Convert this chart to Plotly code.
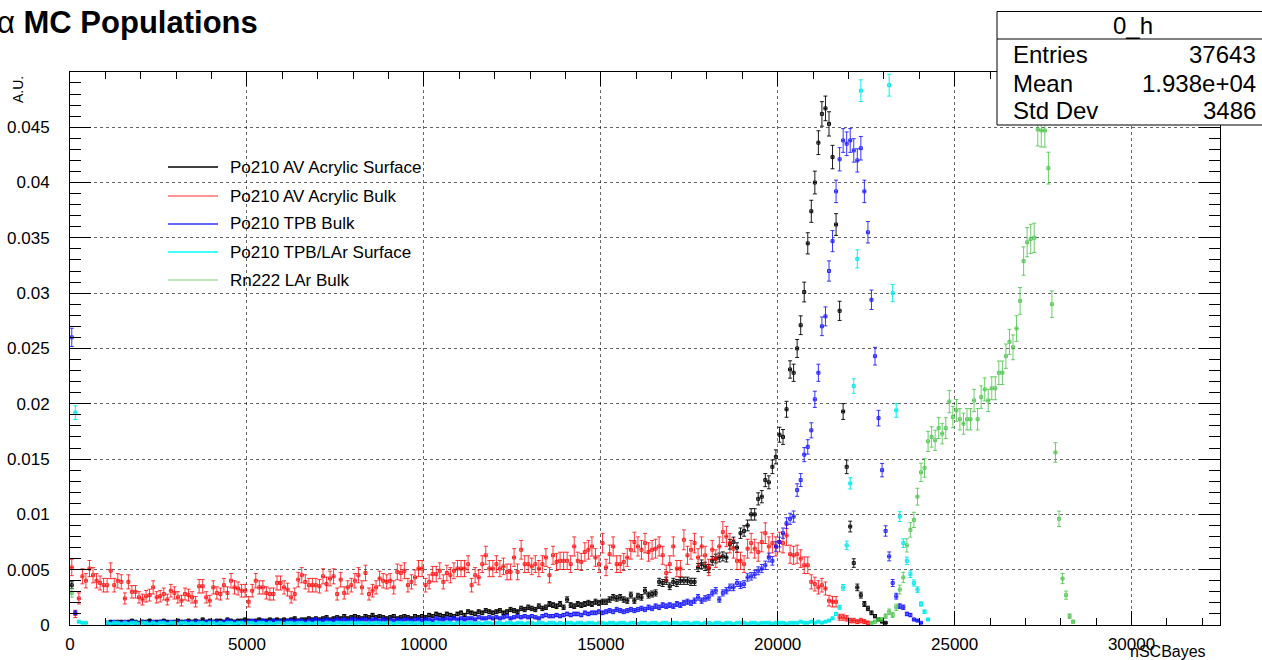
import numpy as np
import plotly.graph_objects as go

# ---------------- data (normalised histograms, 100-unit bins, 0..32500) -------------
BIN_W = 100
X_MAX = 32500
Y_MAX = 0.04999

labels = ["Po210 AV Acrylic Surface", "Po210 AV Acrylic Bulk", "Po210 TPB Bulk",
          "Po210 TPB/LAr Surface", "Rn222 LAr Bulk"]

# each series: list of (first_bin, values); None = empty / off-scale bin
black_seg0 = [0.0036]
black_seg1 = [  # bins 10..230
    0.0002, 0.0003, 0.0002, 0.0003, 0.0003, 0.0002, 0.0003, 0.0004, 0.0003, 0.0002,
    0.0003, 0.0003, 0.0004, 0.0002, 0.0003, 0.0003, 0.0004, 0.0003, 0.0002, 0.0003,
    0.0004, 0.0003, 0.0003, 0.0004, 0.0003, 0.0004, 0.0003, 0.0005, 0.0003, 0.0004,
    0.0003, 0.0004, 0.0004, 0.0003, 0.0005, 0.0004, 0.0003, 0.0004, 0.0004, 0.0005,
    0.0004, 0.0003, 0.0004, 0.0005, 0.0004, 0.0004, 0.0005, 0.0004, 0.0005, 0.0004,
    0.0005, 0.0004, 0.0005, 0.0006, 0.0004, 0.0005, 0.0005, 0.0006, 0.0005, 0.0006,
    0.0005, 0.0006, 0.0007, 0.0005, 0.0006, 0.0007, 0.0006, 0.0008, 0.0006, 0.0007,
    0.0008, 0.0007, 0.0006, 0.0008, 0.0007, 0.0009, 0.0007, 0.0008, 0.0007, 0.0006,
    0.0007, 0.0008, 0.0006, 0.0007, 0.0008, 0.0007, 0.0006, 0.0008, 0.0007, 0.0008,
    0.0007, 0.0009, 0.0008, 0.0010, 0.0009, 0.0008, 0.0010, 0.0009, 0.0008, 0.0010,
    0.0011, 0.0009, 0.0012, 0.0011, 0.0010, 0.0012, 0.0011, 0.0013, 0.0012, 0.0011,
    0.0012, 0.0013, 0.0011, 0.0012, 0.0014, 0.0013, 0.0012, 0.0015, 0.0014, 0.0016,
    0.0015, 0.0014, 0.0017, 0.0015, 0.0016, 0.0019, 0.0018, 0.0017, 0.0019, 0.0016,
    0.0023, 0.0018, 0.0017, 0.0019, 0.0018, 0.0019, 0.0020, 0.0019, 0.0021, 0.0020,
    0.0021, 0.0021, 0.0023, 0.0025, 0.0024, 0.0025, 0.0023, 0.0022, 0.0027, 0.0022,
    0.0026, 0.0025, 0.0031, 0.0027, 0.0028, 0.0029, 0.0039, 0.0038, 0.0040, 0.0035,
    0.0039, 0.0038, 0.0040, 0.0040, 0.0040, 0.0039, 0.0039, 0.0052, 0.0055, 0.0053,
    0.0051, 0.0058, 0.0060, 0.0061, 0.0062, 0.0061, 0.0073, 0.0075, 0.0070, 0.0083,
    0.0085, 0.0090, 0.0100, 0.0100, 0.0114, 0.0116, 0.0131, 0.0129, 0.0143, 0.0152,
    0.0172, 0.0170, 0.0195, 0.0231, 0.0228, 0.0250, 0.0271, 0.0301, 0.0345, 0.0374,
    0.0400, 0.0436, 0.0462, 0.0467, 0.0453, 0.0423, 0.0362, 0.0284, 0.0193, 0.0143,
    0.0089, 0.0056, 0.0034, 0.0027, 0.0019, 0.0015, 0.0011, 0.0008, 0.0005, 0.0003,
    0.0002,
]

red_seg0 = [  # bins 0..225
    0.0052, 0.0010, 0.0024, 0.0044, 0.0040, 0.0051, 0.0045, 0.0040, 0.0038, 0.0036,
    0.0036, 0.0049, 0.0036, 0.0040, 0.0039, 0.0024, 0.0039, 0.0030, 0.0030, 0.0025,
    0.0023, 0.0026, 0.0027, 0.0034, 0.0025, 0.0026, 0.0028, 0.0023, 0.0031, 0.0029,
    0.0025, 0.0022, 0.0028, 0.0027, 0.0025, 0.0021, 0.0035, 0.0035, 0.0025, 0.0022,
    0.0034, 0.0029, 0.0028, 0.0036, 0.0029, 0.0040, 0.0034, 0.0033, 0.0031, 0.0031,
    0.0021, 0.0031, 0.0040, 0.0034, 0.0034, 0.0029, 0.0028, 0.0028, 0.0038, 0.0038,
    0.0034, 0.0032, 0.0025, 0.0028, 0.0041, 0.0045, 0.0039, 0.0036, 0.0036, 0.0036,
    0.0035, 0.0044, 0.0037, 0.0042, 0.0044, 0.0028, 0.0041, 0.0029, 0.0034, 0.0036,
    0.0040, 0.0045, 0.0034, 0.0047, 0.0028, 0.0031, 0.0034, 0.0042, 0.0040, 0.0039,
    0.0040, 0.0034, 0.0048, 0.0047, 0.0049, 0.0036, 0.0039, 0.0043, 0.0051, 0.0051,
    0.0036, 0.0039, 0.0046, 0.0046, 0.0049, 0.0039, 0.0047, 0.0045, 0.0049, 0.0051,
    0.0051, 0.0051, 0.0055, 0.0036, 0.0045, 0.0043, 0.0055, 0.0063, 0.0051, 0.0051,
    0.0055, 0.0051, 0.0053, 0.0048, 0.0048, 0.0061, 0.0048, 0.0068, 0.0055, 0.0055,
    0.0053, 0.0055, 0.0051, 0.0055, 0.0061, 0.0045, 0.0063, 0.0057, 0.0058, 0.0058,
    0.0058, 0.0055, 0.0071, 0.0058, 0.0057, 0.0066, 0.0068, 0.0071, 0.0061, 0.0055,
    0.0074, 0.0052, 0.0064, 0.0071, 0.0055, 0.0055, 0.0057, 0.0061, 0.0068, 0.0075,
    0.0071, 0.0068, 0.0074, 0.0066, 0.0068, 0.0069, 0.0071, 0.0063, 0.0047, 0.0055,
    0.0071, 0.0051, 0.0051, 0.0077, 0.0063, 0.0068, 0.0074, 0.0061, 0.0071, 0.0063,
    0.0052, 0.0068, 0.0060, 0.0071, 0.0084, 0.0080, 0.0074, 0.0069, 0.0058, 0.0058,
    0.0055, 0.0069, 0.0074, 0.0069, 0.0066, 0.0075, 0.0083, 0.0071, 0.0074, 0.0071,
    0.0075, 0.0074, 0.0081, 0.0064, 0.0063, 0.0064, 0.0060, 0.0054, 0.0054, 0.0039,
    0.0037, 0.0034, 0.0036, 0.0033, 0.0022, 0.0021, 0.0021, 0.0007, 0.0007, 0.0006,
    0.0004, 0.0004, 0.0003, 0.0004, 0.0003, 0.0002,
]

blue_seg0 = [0.0260, 0.0011]
blue_seg1 = [  # bins 10..240
    0.0002, 0.0002, 0.0003, 0.0002, 0.0002, 0.0003, 0.0002, 0.0003, 0.0002, 0.0002,
    0.0003, 0.0002, 0.0002, 0.0003, 0.0002, 0.0003, 0.0003, 0.0002, 0.0003, 0.0002,
    0.0003, 0.0002, 0.0003, 0.0003, 0.0002, 0.0003, 0.0003, 0.0002, 0.0003, 0.0003,
    0.0003, 0.0003, 0.0002, 0.0003, 0.0004, 0.0003, 0.0003, 0.0002, 0.0003, 0.0003,
    0.0003, 0.0004, 0.0003, 0.0003, 0.0004, 0.0003, 0.0003, 0.0004, 0.0003, 0.0004,
    0.0003, 0.0004, 0.0004, 0.0003, 0.0004, 0.0004, 0.0003, 0.0004, 0.0004, 0.0005,
    0.0004, 0.0004, 0.0005, 0.0004, 0.0004, 0.0005, 0.0004, 0.0005, 0.0004, 0.0005,
    0.0005, 0.0004, 0.0005, 0.0005, 0.0004, 0.0005, 0.0005, 0.0004, 0.0005, 0.0004,
    0.0005, 0.0004, 0.0005, 0.0004, 0.0005, 0.0005, 0.0004, 0.0005, 0.0005, 0.0004,
    0.0005, 0.0005, 0.0004, 0.0006, 0.0005, 0.0005, 0.0006, 0.0005, 0.0006, 0.0005,
    0.0006, 0.0005, 0.0006, 0.0006, 0.0005, 0.0007, 0.0006, 0.0006, 0.0007, 0.0006,
    0.0007, 0.0006, 0.0007, 0.0008, 0.0006, 0.0007, 0.0008, 0.0007, 0.0008, 0.0007,
    0.0008, 0.0007, 0.0006, 0.0008, 0.0009, 0.0008, 0.0008, 0.0009, 0.0008, 0.0009,
    0.0010, 0.0009, 0.0010, 0.0010, 0.0009, 0.0011, 0.0010, 0.0011, 0.0011, 0.0012,
    0.0011, 0.0012, 0.0013, 0.0012, 0.0014, 0.0013, 0.0012, 0.0013, 0.0014, 0.0013,
    0.0014, 0.0015, 0.0014, 0.0016, 0.0015, 0.0017, 0.0016, 0.0018, 0.0017, 0.0018,
    0.0017, 0.0019, 0.0018, 0.0020, 0.0021, 0.0020, 0.0022, 0.0025, 0.0022, 0.0024,
    0.0025, 0.0029, 0.0031, 0.0023, 0.0029, 0.0031, 0.0034, 0.0034, 0.0038, 0.0036,
    0.0037, 0.0043, 0.0044, 0.0046, 0.0049, 0.0051, 0.0054, 0.0061, 0.0058, 0.0071,
    0.0075, 0.0083, 0.0092, 0.0096, 0.0098, 0.0122, 0.0131, 0.0154, 0.0161, 0.0176,
    0.0204, 0.0228, 0.0270, 0.0279, 0.0320, 0.0347, 0.0392, 0.0421, 0.0438, 0.0435,
    0.0438, 0.0429, 0.0420, 0.0431, 0.0392, 0.0355, 0.0294, 0.0243, 0.0187, 0.0140,
    0.0085, 0.0062, 0.0038, 0.0026, 0.0017, 0.0016, 0.0010, 0.0009, 0.0005, 0.0004,
    0.0002,
]

cyan_seg0 = [None, 0.0192, 0.0003, 0.0002, 0.0002]
cyan_seg1 = [  # bins 10..242 (bins 224..230 are above the frame)
    0.0002, 0.0001, 0.0002, 0.0002, 0.0001, 0.0002, 0.0001, 0.0002, 0.0002, 0.0001,
    0.0002, 0.0002, 0.0001, 0.0002, 0.0001, 0.0002, 0.0002, 0.0001, 0.0002, 0.0002,
    0.0001, 0.0002, 0.0002, 0.0001, 0.0002, 0.0001, 0.0002, 0.0002, 0.0001, 0.0002,
    0.0002, 0.0001, 0.0002, 0.0001, 0.0002, 0.0002, 0.0001, 0.0002, 0.0002, 0.0001,
    0.0002, 0.0002, 0.0001, 0.0002, 0.0002, 0.0001, 0.0002, 0.0001, 0.0002, 0.0002,
    0.0001, 0.0002, 0.0002, 0.0001, 0.0002, 0.0002, 0.0001, 0.0002, 0.0001, 0.0002,
    0.0002, 0.0001, 0.0002, 0.0002, 0.0001, 0.0002, 0.0002, 0.0001, 0.0002, 0.0002,
    0.0001, 0.0002, 0.0002, 0.0001, 0.0002, 0.0001, 0.0002, 0.0002, 0.0001, 0.0002,
    0.0002, 0.0001, 0.0002, 0.0002, 0.0001, 0.0002, 0.0002, 0.0001, 0.0002, 0.0001,
    0.0002, 0.0002, 0.0001, 0.0002, 0.0002, 0.0001, 0.0002, 0.0002, 0.0001, 0.0002,
    0.0002, 0.0001, 0.0002, 0.0002, 0.0001, 0.0002, 0.0001, 0.0002, 0.0002, 0.0001,
    0.0002, 0.0002, 0.0001, 0.0002, 0.0002, 0.0001, 0.0002, 0.0002, 0.0001, 0.0002,
    0.0002, 0.0001, 0.0002, 0.0002, 0.0001, 0.0002, 0.0002, 0.0001, 0.0002, 0.0001,
    0.0002, 0.0002, 0.0001, 0.0002, 0.0002, 0.0001, 0.0002, 0.0002, 0.0001, 0.0002,
    0.0002, 0.0001, 0.0002, 0.0002, 0.0001, 0.0002, 0.0002, 0.0001, 0.0002, 0.0002,
    0.0001, 0.0002, 0.0002, 0.0001, 0.0002, 0.0002, 0.0001, 0.0002, 0.0002, 0.0001,
    0.0002, 0.0002, 0.0001, 0.0002, 0.0002, 0.0001, 0.0002, 0.0002, 0.0001, 0.0002,
    0.0002, 0.0001, 0.0002, 0.0002, 0.0001, 0.0002, 0.0002, 0.0001, 0.0002, 0.0002,
    0.0002, 0.0001, 0.0002, 0.0002, 0.0001, 0.0002, 0.0002, 0.0002, 0.0001, 0.0002,
    0.0002, 0.0002, 0.0001, 0.0002, 0.0002, 0.0002, 0.0003, 0.0002, 0.0002, 0.0003,
    0.0002, 0.0003, 0.0002, 0.0003,
    0.0004, 0.0006, 0.0010, 0.0016, 0.0034, 0.0072, 0.0128, 0.0216, 0.0331, 0.0483,
    None, None, None, None, None, None, None,
    0.0488, 0.0300, 0.0194, 0.0098, 0.0074, 0.0058, 0.0046, 0.0038, 0.0032, 0.0019,
    0.0012, 0.0005,
]

green_seg0 = [0.0029]
green_seg1 = [  # bins 226..283
    0.0002, 0.0003, 0.0005, 0.0005, 0.0008, 0.0012, 0.0009, 0.0016, 0.0032, 0.0043,
    0.0072, 0.0086, 0.0095, 0.0116, 0.0138, 0.0142, 0.0166, 0.0170, 0.0167, 0.0178,
    0.0173, 0.0178, 0.0202, 0.0188, 0.0194, 0.0186, 0.0182, 0.0186, 0.0186, 0.0203,
    0.0186, 0.0206, 0.0213, 0.0203, 0.0214, 0.0214, 0.0228, 0.0228, 0.0243, 0.0256,
    0.0251, 0.0268, 0.0293, 0.0329, 0.0346, 0.0349, 0.0350, 0.0448, 0.0447, 0.0447,
    0.0413, 0.0290, 0.0156, 0.0096, 0.0042, 0.0027, 0.0008, 0.0003,
]

series_segments = [
    [(0, black_seg0), (10, black_seg1)],
    [(0, red_seg0)],
    [(0, blue_seg0), (10, blue_seg1)],
    [(0, cyan_seg0), (10, cyan_seg1)],
    [(0, green_seg0), (226, green_seg1)],
]
# effective number of entries per histogram (sets the Poisson error bar size)
n_eff = [37643, 9500, 38000, 50000, 20000]

colors = ["rgba(0,0,0,0.9)", "rgba(255,0,0,0.78)", "rgba(20,20,255,0.85)",
          "rgba(0,235,235,0.95)", "rgba(70,195,70,0.8)"]
legend_colors = ["#000000", "#ff7070", "#3030ff", "#00ffff", "#a0e0a0"]

stats_title = "0_h"
stats_rows = [("Entries", "37643"), ("Mean", "1.938e+04"), ("Std Dev", "3486")]

FONT = "Liberation Sans, Arial, Helvetica, sans-serif"

# ---------------- figure -------------------------------------------------------------
fig = go.Figure()
for segs, ne, col, name in zip(series_segments, n_eff, colors, labels):
    xs, ys = [], []
    for start, vals in segs:
        for i, v in enumerate(vals):
            if v is None:
                continue
            xs.append((start + i) * BIN_W + BIN_W / 2)
            ys.append(v)
    ys = np.array(ys)
    errs = np.sqrt(ys / ne)
    fig.add_trace(go.Scatter(
        x=xs, y=ys, mode="markers", name=name, showlegend=False,
        marker=dict(symbol="square-open", size=3, color=col, line=dict(width=1, color=col)),
        error_y=dict(type="data", array=errs, visible=True, color=col, thickness=1, width=2),
        error_x=dict(type="constant", value=BIN_W / 2, visible=True, color=col, thickness=1, width=0),
        hoverinfo="x+y",
    ))

L, R, T, B = 70, 1220, 72, 625
W, H = R - L, B - T


def px(x):
    return (x - L) / W


def py(y):
    return (B - y) / H


shapes = []
annotations = []

# title
annotations.append(dict(text="α <b>MC Populations</b>", x=px(-5), y=py(23), xref="paper", yref="paper",
                        xanchor="left", yanchor="middle", showarrow=False,
                        font=dict(family=FONT, size=31, color="black")))
# axis titles
annotations.append(dict(text="A.U.", x=px(18), y=py(90), xref="paper", yref="paper", textangle=-90,
                        xanchor="center", yanchor="middle", showarrow=False,
                        font=dict(family=FONT, size=14, color="black")))
annotations.append(dict(text="nSCBayes", x=px(1208), y=py(651), xref="paper", yref="paper",
                        xanchor="right", yanchor="middle", showarrow=False,
                        font=dict(family=FONT, size=16, color="black")))

# legend (no border, transparent)
leg_y = [167, 196, 224, 252, 280]
for name, lc, yy in zip(labels, legend_colors, leg_y):
    shapes.append(dict(type="line", xref="paper", yref="paper", x0=px(168), x1=px(218),
                       y0=py(yy), y1=py(yy), line=dict(color=lc, width=1.5)))
    annotations.append(dict(text=name, x=px(228), y=py(yy), xref="paper", yref="paper",
                            xanchor="left", yanchor="middle", showarrow=False,
                            font=dict(family=FONT, size=17, color="black")))

# stats box
shapes.append(dict(type="rect", xref="paper", yref="paper", x0=px(997), x1=px(1270),
                   y0=py(125), y1=py(11.5), fillcolor="white", line=dict(color="black", width=1),
                   layer="above"))
shapes.append(dict(type="line", xref="paper", yref="paper", x0=px(997), x1=px(1270),
                   y0=py(39), y1=py(39), line=dict(color="black", width=1), layer="above"))
annotations.append(dict(text=stats_title, x=px(1133), y=py(25), xref="paper", yref="paper",
                        xanchor="center", yanchor="middle", showarrow=False,
                        font=dict(family=FONT, size=24, color="black")))
for (k, v), yy in zip(stats_rows, [55, 83, 111]):
    annotations.append(dict(text=k, x=px(1011), y=py(yy), xref="paper", yref="paper",
                            xanchor="left", yanchor="middle", showarrow=False,
                            font=dict(family=FONT, size=24, color="black")))
    annotations.append(dict(text=v, x=px(1258), y=py(yy), xref="paper", yref="paper",
                            xanchor="right", yanchor="middle", showarrow=False,
                            font=dict(family=FONT, size=24, color="black")))

grid = dict(showgrid=True, gridcolor="rgba(0,0,0,0.6)", griddash="dot", gridwidth=1)
fig.update_layout(
    width=1262, height=660,
    margin=dict(l=L, r=1262 - R, t=T, b=660 - B, autoexpand=False),
    paper_bgcolor="white", plot_bgcolor="white",
    font=dict(family=FONT, color="black"),
    showlegend=False,
    shapes=shapes, annotations=annotations,
    xaxis=dict(range=[0, X_MAX], tick0=0, dtick=5000, tickformat="d",
               showline=True, linecolor="black", linewidth=1, mirror="allticks",
               ticks="inside", ticklen=14, tickwidth=1, tickcolor="black",
               minor=dict(ticks="inside", ticklen=7, dtick=1000, tickcolor="black", showgrid=False),
               ticklabelstandoff=4,
               zeroline=False, tickfont=dict(size=17, family=FONT), **grid),
    yaxis=dict(range=[0, Y_MAX], tick0=0, dtick=0.005,
               showline=True, linecolor="black", linewidth=1, mirror="allticks",
               ticks="inside", ticklen=21, tickwidth=1, tickcolor="black",
               minor=dict(ticks="inside", ticklen=11, dtick=0.001, tickcolor="black", showgrid=False),
               ticklabelstandoff=16,
               zeroline=False, tickfont=dict(size=17, family=FONT), **grid),
)

fig.write_html("out.html", config={"displayModeBar": False},
               post_script="document.body.style.margin='0px';")
